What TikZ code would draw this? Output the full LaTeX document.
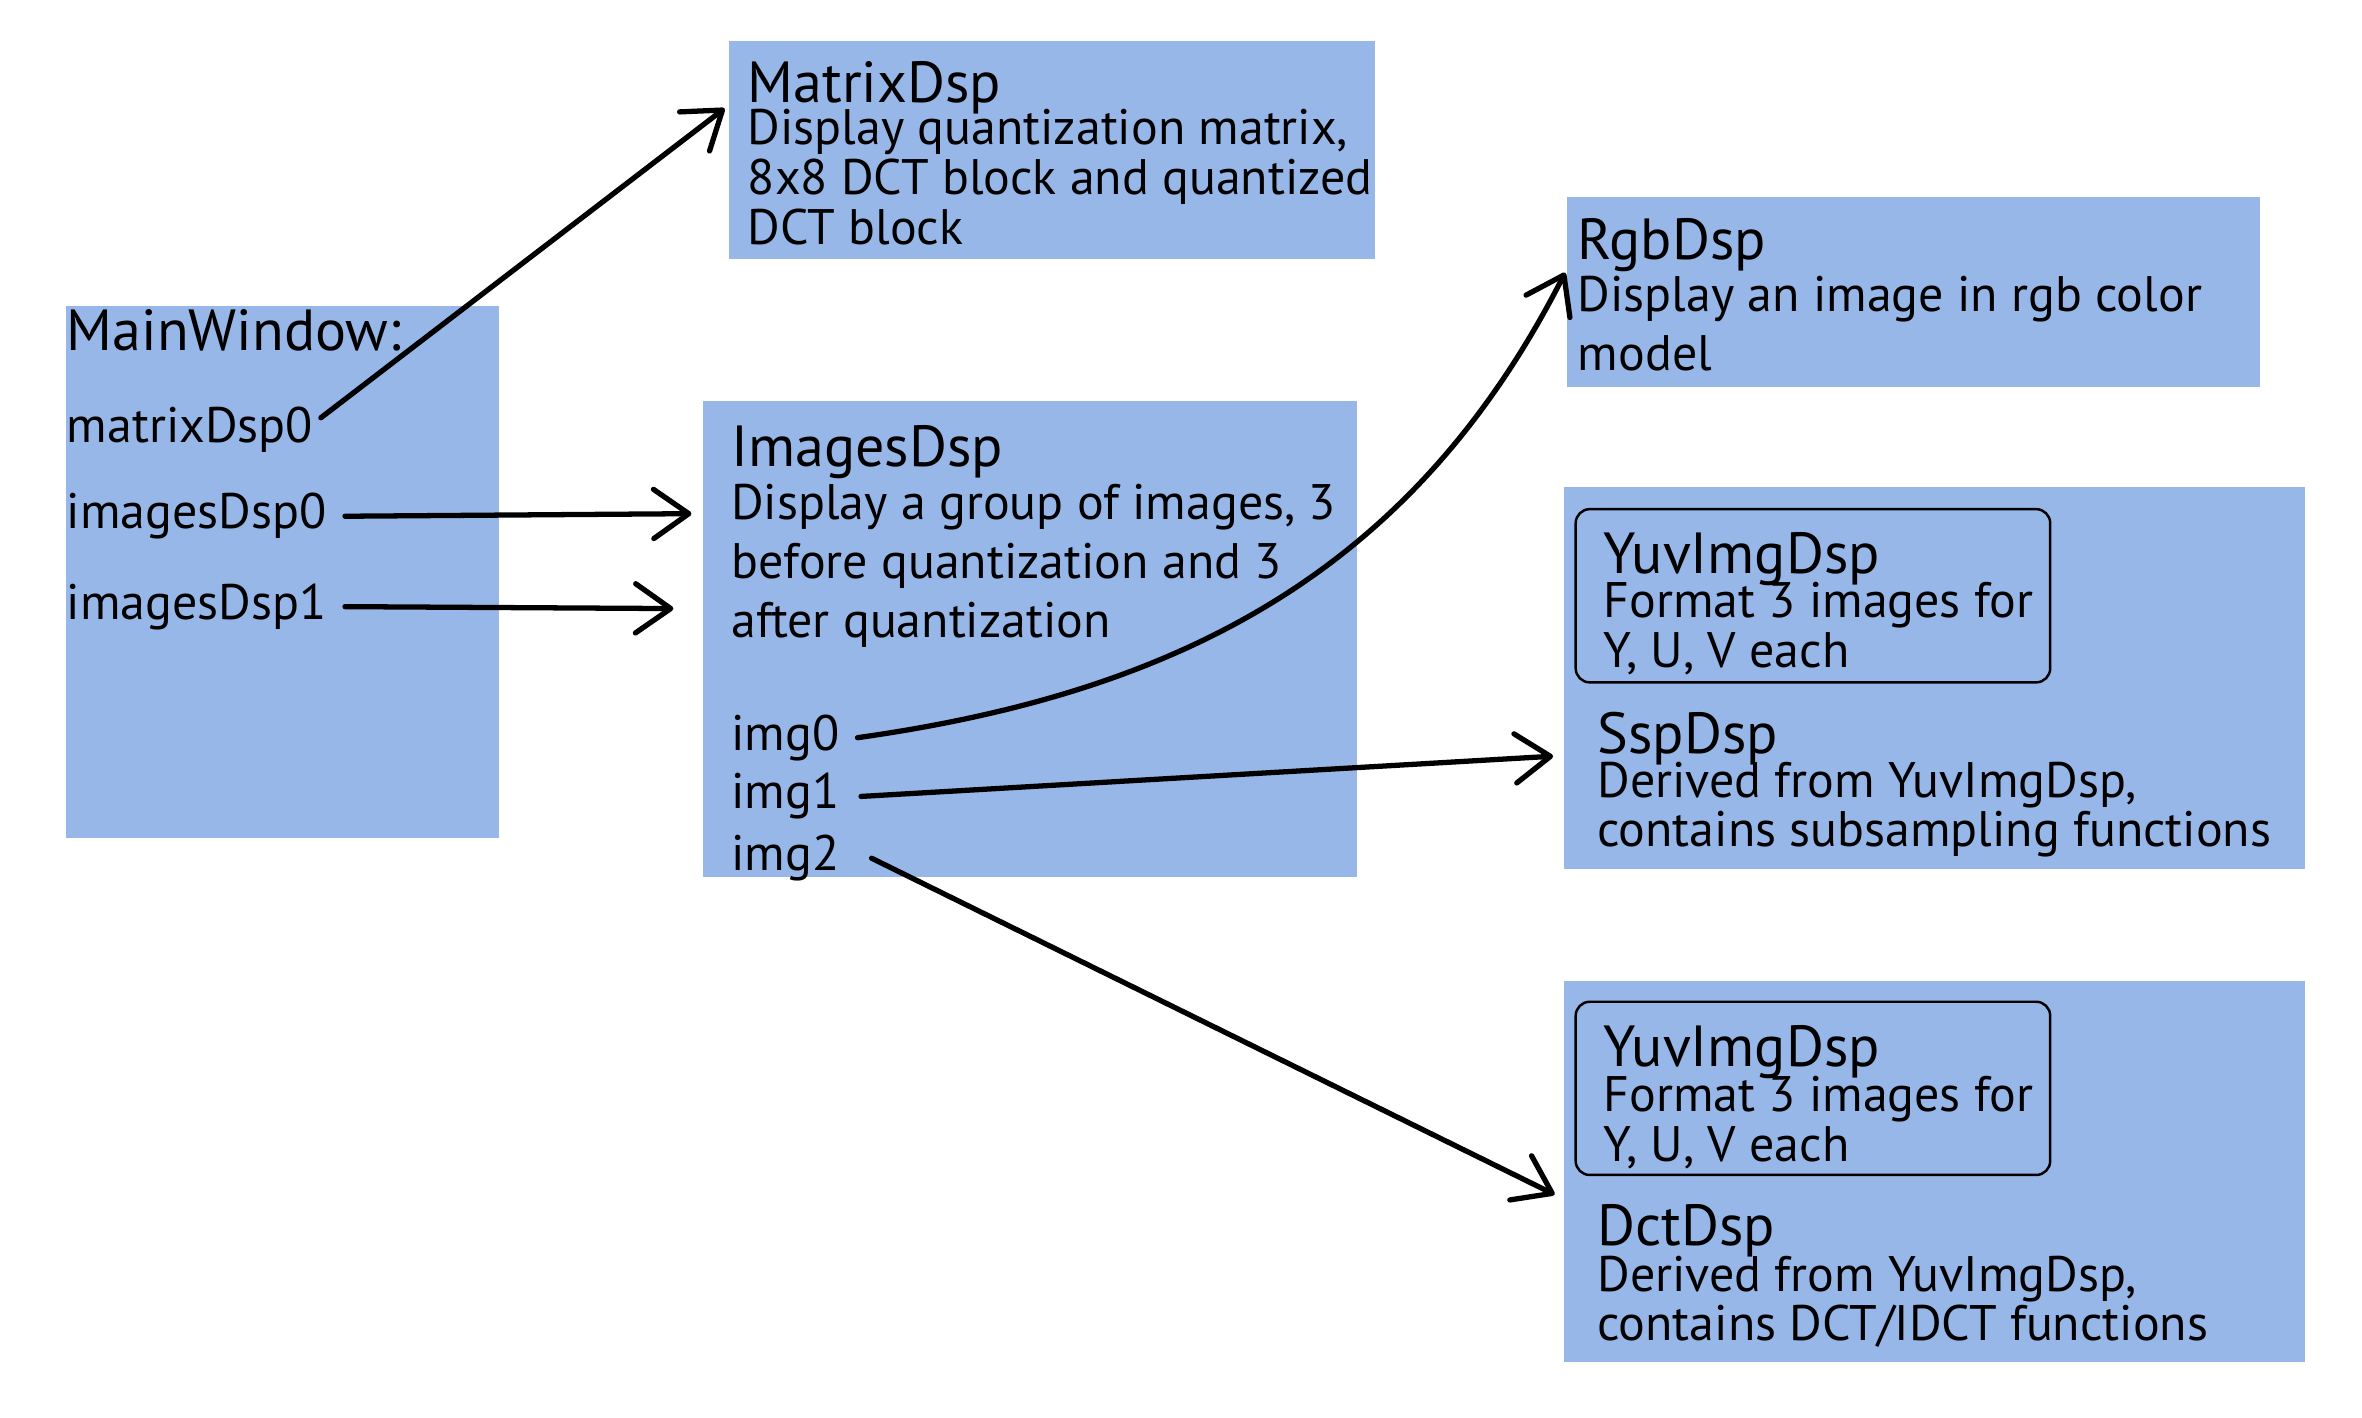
\documentclass[tikz,border=0pt]{standalone}
\usepackage{fontspec}
\setmainfont{PT Sans}
\usetikzlibrary{positioning, arrows.meta, fit}
\definecolor{boxblue}{RGB}{151,183,232}

\begin{document}
\begin{tikzpicture}[x=0.015064cm, y=0.015064cm,
    box/.style={fill=boxblue, inner sep=0pt},
    inbox/.style={draw, rounded corners=4pt, line width=0.7pt, inner sep=0pt},
    ttl/.style={anchor=base west, inner sep=0pt, font=\fontsize{16.5}{18}\selectfont},
    txt/.style={anchor=base west, inner sep=0pt, align=left, font=\fontsize{14.2}{14.1}\selectfont},
    txtw/.style={anchor=base west, inner sep=0pt, align=left, font=\fontsize{14.2}{16.7}\selectfont},
    arr/.style={-{Straight Barb[length=10pt, width=14pt, round]}, line width=1.5pt, line cap=round}]
    \useasboundingbox (0,0) rectangle (1568,941);

    % boxes
    \node[box, fit={(484,914) (913,769)}] (mbox) {};
    \node[box, fit={(44,738) (331,385)}] (wbox) {};
    \node[box, fit={(467,675) (901,359)}] (ibox) {};
    \node[box, fit={(1040,810) (1500,684)}] (rbox) {};
    \node[box, fit={(1038,618) (1530,364)}] (sbox) {};
    \node[box, fit={(1038,290) (1530,37)}] (dbox) {};
    \node[inbox, fit={(1046,603) (1361,488)}] (syuv) {};
    \node[inbox, fit={(1046,276) (1361,161)}] (dyuv) {};

    % MainWindow (multi-line texts sit on their last baseline)
    \node[ttl] (wtitle) at (44,708) {MainWindow:};
    \node[txt] (md0) at (44,647) {matrixDsp0};
    \node[txt] (id0) at (44,590) {imagesDsp0};
    \node[txt] (id1) at (44,530) {imagesDsp1};

    % MatrixDsp
    \node[ttl] (mtitle) at (496,873) {MatrixDsp};
    \node[txt] (mtext) at (496,779) {Display quantization matrix,\\8x8 DCT block and quantized\\DCT block};

    % ImagesDsp
    \node[ttl] (ititle) at (485,631) {ImagesDsp};
    \node[txtw] (itext) at (485,518) {Display a group of images, 3\\before quantization and 3\\after quantization};
    \node[txt] (img0) at (485,443) {img0};
    \node[txt] (img1) at (485,404) {img1};
    \node[txt] (img2) at (485,363) {img2};

    % RgbDsp
    \node[ttl] (rtitle) at (1047,769) {RgbDsp};
    \node[txtw] (rtext) at (1047,695) {Display an image in rgb color\\model};

    % SspDsp
    \node[ttl] (sytitle) at (1064,560) {YuvImgDsp};
    \node[txt] (sytext) at (1064,498) {Format 3 images for\\Y, U, V each};
    \node[ttl] (stitle) at (1060,441) {SspDsp};
    \node[txt] (stext) at (1060,379) {Derived from YuvImgDsp,\\contains subsampling functions};

    % DctDsp
    \node[ttl] (dytitle) at (1064,233) {YuvImgDsp};
    \node[txt] (dytext) at (1064,170) {Format 3 images for\\Y, U, V each};
    \node[ttl] (dtitle) at (1060,114) {DctDsp};
    \node[txt] (dtext) at (1060,51) {Derived from YuvImgDsp,\\contains DCT/IDCT functions};

    % arrow tips
    \coordinate (tm) at (481,869);
    \coordinate (ti0) at (459,600);
    \coordinate (ti1) at (447,537);
    \coordinate (tr) at (1039,760);
    \coordinate (ts) at (1031,439);
    \coordinate (td) at (1032,148);

    \draw[arr] ([xshift=2pt, yshift=3.5pt]md0.east) -- (tm);
    \draw[arr] ([xshift=5pt]id0.east) -- (ti0);
    \draw[arr] ([xshift=5pt]id1.east) -- (ti1);
    \draw[arr] ([xshift=5pt]img0.east) to[out=8, in=-117] (tr);
    \draw[arr] ([xshift=6pt]img1.east) -- (ts);
    \draw[arr] ([xshift=9pt]img2.east) -- (td);
\end{tikzpicture}
\end{document}
